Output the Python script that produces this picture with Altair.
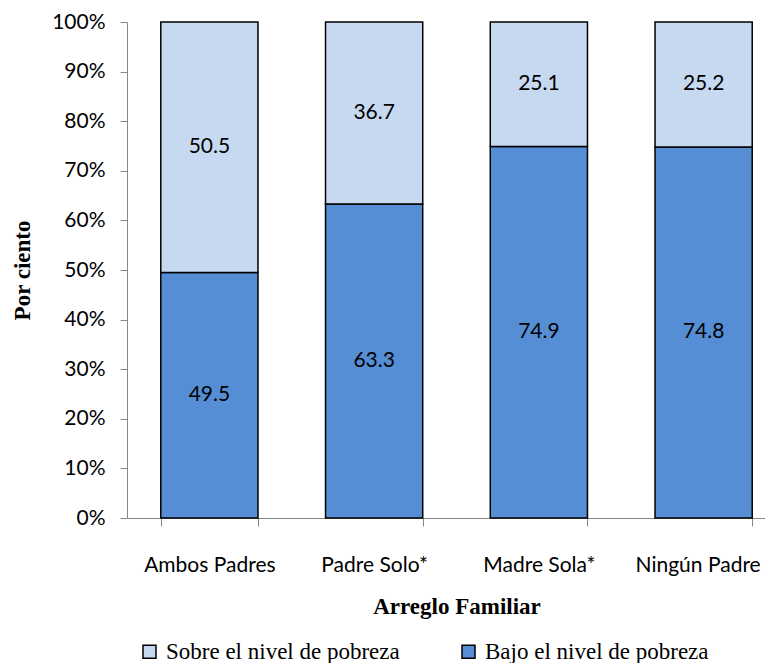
import altair as alt
import pandas as pd

categories = ["Ambos Padres", "Padre Solo*", "Madre Sola*", "Ningún Padre"]
bajo = [49.5, 63.3, 74.9, 74.8]
sobre = [50.5, 36.7, 25.1, 25.2]
series = ["Sobre el nivel de pobreza", "Bajo el nivel de pobreza"]
colors = ["#C6D9F1", "#558ED5"]

rows = []
for c, b, s in zip(categories, bajo, sobre):
    rows.append({"cat": c, "serie": series[1], "v": b, "y0": 0.0, "y1": b})
    rows.append({"cat": c, "serie": series[0], "v": s, "y0": b, "y1": b + s})
df = pd.DataFrame(rows)
df["mid"] = (df["y0"] + df["y1"]) / 2
df["lab"] = df["v"].map(lambda v: f"{v:.1f}")

sans = "Lato"
serif = "Liberation Serif"

x = alt.X("cat:N", sort=categories,
          scale=alt.Scale(paddingInner=0.41, paddingOuter=0.205, range=[0, 659]),
          axis=alt.Axis(title="Arreglo Familiar", labelAngle=0, labelFont=sans,
                        labelFontSize=21, labelColor="#000", labelPadding=28,
                        labelOffset={"condition": {"test": "datum.value === 'Ningún Padre'",
                                                   "value": -6}, "value": 0},
                        tickBand="extent", tickSize=8, tickColor="#868686",
                        domainColor="#868686", titleFont=serif, titleFontSize=23,
                        titleFontWeight="bold", titleColor="#000", titlePadding=20))

bars = alt.Chart(df).mark_bar(stroke="black", strokeWidth=1.5).encode(
    x=x,
    y=alt.Y("y0:Q", scale=alt.Scale(domain=[0, 100], nice=False),
            axis=alt.Axis(title="Por ciento", values=list(range(0, 101, 10)),
                          labelExpr="datum.value + '%'", grid=False,
                          labelFont=sans, labelFontSize=21, labelColor="#000",
                          tickColor="#868686", domainColor="#868686", tickSize=7,
                          labelPadding=15, titleFont=serif, titleFontSize=23,
                          titleFontWeight="bold", titleColor="#000", titlePadding=17)),
    y2="y1:Q",
    color=alt.Color("serie:N", sort=series,
                    scale=alt.Scale(domain=series, range=colors),
                    legend=alt.Legend(title=None, orient="none", legendX=11, legendY=618,
                                      direction="horizontal", symbolType="square",
                                      symbolSize=169, symbolStrokeColor="black",
                                      symbolStrokeWidth=1.5, labelFont=serif,
                                      labelFontSize=23, labelColor="#000", labelOffset=5,
                                      columnPadding=57, labelLimit=400, padding=0)),
)

texts = alt.Chart(df).mark_text(font=sans, fontSize=21, color="black").encode(
    x=alt.X("cat:N", sort=categories),
    y=alt.Y("mid:Q"),
    text="lab:N",
)

chart = alt.layer(bars, texts).properties(
    width=636, height=496,
    autosize=alt.AutoSizeParams(type="none"),
    padding={"left": 119, "top": 14, "right": 2, "bottom": 145},
).configure_view(stroke=None)

chart.save("out.html", embed_options={"renderer": "svg", "actions": False})
